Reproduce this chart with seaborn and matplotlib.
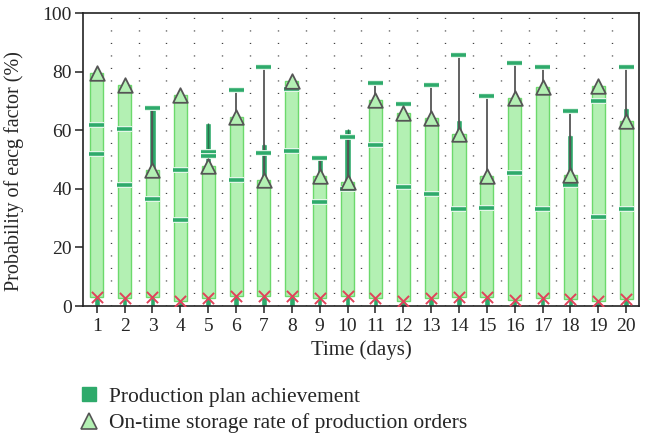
import numpy as np
import pandas as pd
import matplotlib
matplotlib.use("Agg")
import matplotlib.pyplot as plt
import matplotlib.patheffects as pe
from matplotlib.lines import Line2D
import seaborn as sns

sns.set_theme(style="ticks")
plt.rcParams["font.family"] = ["Liberation Serif", "DejaVu Serif"]

days = list(range(1, 21))
# on-time storage rate (triangles, top of light bars)
storage = [79.5, 75.5, 46.3, 72.1, 47.7, 64.5, 43.2, 76.8, 44.4, 42.5,
           70.4, 65.9, 64.3, 58.8, 44.3, 71.2, 74.7, 44.8, 75.0, 63.1]
# minimum values (red crosses, bottom of light bars)
lows = [3.2, 2.8, 3.0, 1.8, 2.7, 3.3, 3.4, 3.6, 2.7, 3.4,
        2.6, 1.7, 2.6, 3.1, 3.0, 2.0, 2.7, 2.4, 1.7, 2.4]
# production plan achievement marks
mark_hi = [61.7, 60.3, 67.5, 46.6, 52.5, 73.9, 81.7, 74.2, 50.5, 57.8,
           76.3, 69.1, 75.6, 85.8, 71.6, 83.1, 81.5, 66.6, 70.1, 81.5]
mark_lo = [51.8, 41.5, 36.5, 29.5, 51.1, 42.9, 52.1, 52.9, 35.7, 40.0,
           55.1, 40.7, 38.4, 33.2, 33.6, 45.4, 33.2, 41.4, 30.3, 33.2]
# production plan achievement bars (upper segments)
seg_days = [3, 5, 7, 9, 10, 14, 18, 20]
seg_lo = [46.3, 47.7, 43.2, 44.4, 42.5, 58.8, 44.8, 63.1]
seg_hi = [67.5, 62.5, 55.4, 50.5, 60.3, 63.7, 58.5, 67.7]

df = pd.DataFrame({"day": days, "storage": storage, "low": lows,
                   "mark_hi": mark_hi, "mark_lo": mark_lo})

DARK = "#2eaa6b"
LIGHT = "#b3f0b3"
LEDGE = "#6cd96c"

fig = plt.figure(figsize=(6.47, 4.41), dpi=100)
ax = fig.add_axes([0.128, 0.306, 0.860, 0.664])

# dotted separators
for xv in np.arange(1.5, 20, 1):
    ax.axvline(xv, color="#444444", lw=1.0, ls=(0, (0.8, 8.2)), zorder=0)

# whiskers from triangle to top mark
top = df[["mark_hi", "mark_lo"]].max(axis=1)
wmask = top > df["storage"]
ax.vlines(df["day"][wmask], df["storage"][wmask], top[wmask],
          color="#555555", lw=1.3, zorder=2)

# dark green bottom bars
ax.bar(df["day"], df["low"], width=0.2, color=DARK, zorder=1)
# light green floating bars
ax.bar(df["day"], df["storage"] - df["low"], bottom=df["low"], width=0.47,
       color=LIGHT, edgecolor=LEDGE, linewidth=1.0, zorder=1)
# dark green upper segments
ax.bar(seg_days, np.array(seg_hi) - np.array(seg_lo), bottom=seg_lo,
       width=0.22, color=DARK, zorder=1.5)
ax.vlines(seg_days, seg_lo, seg_hi, color="#2b6e4b", lw=1.0, zorder=1.6)

# marks
for col in ["mark_hi", "mark_lo"]:
    ax.hlines(df[col], df["day"] - 0.27, df["day"] + 0.27, color=DARK, lw=2.6,
              zorder=3,
              path_effects=[pe.Stroke(linewidth=4.2, foreground="#e8f8ec"),
                            pe.Normal()])

# triangles
sns.scatterplot(data=df, x="day", y="storage", marker="^", s=110,
                color=LIGHT, edgecolor="#555555", linewidth=1.3, zorder=4,
                ax=ax, legend=False)
# red crosses
sns.scatterplot(data=df, x="day", y="low", marker="x", s=65,
                color="#e0435a", linewidth=1.4, zorder=5, ax=ax, legend=False)

ax.set_xlim(0.5, 20.47)
ax.set_ylim(0, 100)
ax.set_xticks(days)
ax.set_yticks([0, 20, 40, 60, 80, 100])
ax.tick_params(axis="both", labelsize=14, width=1.2, color="#333333",
               direction="out")
ax.tick_params(axis="x", length=5, pad=3.5)
ax.tick_params(axis="y", length=6, pad=2)
for s in ax.spines.values():
    s.set_linewidth(1.2)
    s.set_color("#222222")
ax.set_xlabel("Time (days)", fontsize=15, labelpad=4)
ax.set_ylabel("Probability of eacg factor (%)", fontsize=14.5)
ax.yaxis.set_label_coords(-0.105, 0.46)

handles = [
    Line2D([], [], ls="none", marker="s", markersize=10, color=DARK),
    Line2D([], [], ls="none", marker="^", markersize=11,
           markerfacecolor=LIGHT, markeredgecolor="#555555",
           markeredgewidth=1.2),
]
fig.legend(handles, ["Production plan achievement",
                     "On-time storage rate of production orders"],
           loc="upper left", bbox_to_anchor=(0.118, 0.123), frameon=False,
           fontsize=15.5, handletextpad=0.3, labelspacing=0.3,
           handlelength=1.2, borderaxespad=0, borderpad=0)

fig.savefig("out.png", dpi=100)
